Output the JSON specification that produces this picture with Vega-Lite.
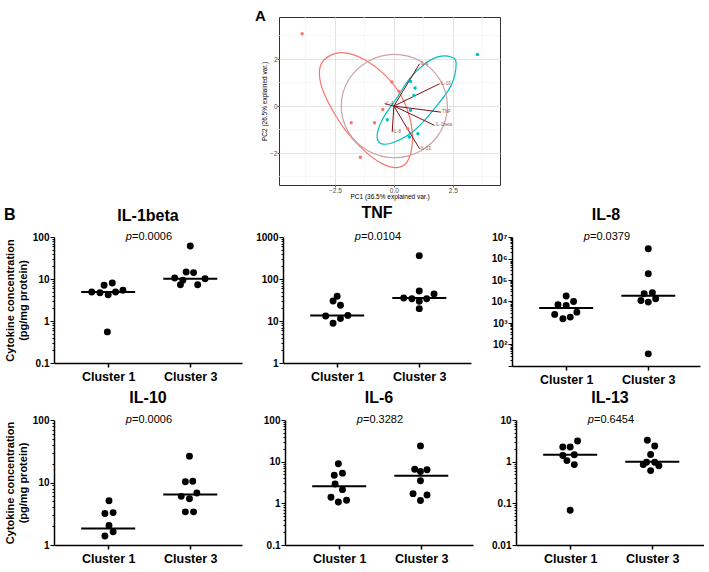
{
  "$schema": "https://vega.github.io/schema/vega-lite/v6.json",
  "background": "white",
  "padding": {"left": 3, "top": 8, "right": 0, "bottom": 0},
  "config": {
    "view": {"stroke": null},
    "font": "Liberation Sans",
    "axis": {"labelFont": "Liberation Sans", "titleFont": "Liberation Sans"},
    "text": {"font": "Liberation Sans"},
    "title": {"font": "Liberation Sans", "fontSize": 16, "fontWeight": "bold", "color": "black", "anchor": "middle", "offset": 8, "frame": "group"}
  },
  "datasets": {
    "pts": [
      {"c": "IL-1beta", "x": 1.05, "v": 8.0}, {"c": "IL-1beta", "x": 0.95, "v": 7.1}, {"c": "IL-1beta", "x": 1.18, "v": 5.4}, {"c": "IL-1beta", "x": 0.80, "v": 4.9},
      {"c": "IL-1beta", "x": 0.90, "v": 4.7}, {"c": "IL-1beta", "x": 1.00, "v": 4.2}, {"c": "IL-1beta", "x": 1.09, "v": 4.9}, {"c": "IL-1beta", "x": 0.99, "v": 0.55},
      {"c": "IL-1beta", "x": 2.00, "v": 61}, {"c": "IL-1beta", "x": 1.95, "v": 14.7}, {"c": "IL-1beta", "x": 2.04, "v": 14.2}, {"c": "IL-1beta", "x": 1.81, "v": 10.6},
      {"c": "IL-1beta", "x": 1.91, "v": 9.3}, {"c": "IL-1beta", "x": 2.18, "v": 10.1}, {"c": "IL-1beta", "x": 1.88, "v": 7.3}, {"c": "IL-1beta", "x": 2.09, "v": 7.3},
      {"c": "TNF", "x": 1.00, "v": 38.7}, {"c": "TNF", "x": 0.95, "v": 29.9}, {"c": "TNF", "x": 1.04, "v": 23.6}, {"c": "TNF", "x": 0.86, "v": 13.2},
      {"c": "TNF", "x": 1.13, "v": 13.6}, {"c": "TNF", "x": 1.04, "v": 11.4}, {"c": "TNF", "x": 0.95, "v": 8.8},
      {"c": "TNF", "x": 2.00, "v": 360}, {"c": "TNF", "x": 2.00, "v": 51.8}, {"c": "TNF", "x": 1.81, "v": 35.3}, {"c": "TNF", "x": 1.91, "v": 34.0},
      {"c": "TNF", "x": 2.09, "v": 34.0}, {"c": "TNF", "x": 2.00, "v": 29.4}, {"c": "TNF", "x": 2.18, "v": 44}, {"c": "TNF", "x": 2.00, "v": 19.7},
      {"c": "IL-8", "x": 1.00, "v": 17900}, {"c": "IL-8", "x": 0.90, "v": 7050}, {"c": "IL-8", "x": 1.00, "v": 6560}, {"c": "IL-8", "x": 1.09, "v": 10070},
      {"c": "IL-8", "x": 1.13, "v": 3200}, {"c": "IL-8", "x": 0.86, "v": 2510}, {"c": "IL-8", "x": 0.96, "v": 1570}, {"c": "IL-8", "x": 1.05, "v": 1880},
      {"c": "IL-8", "x": 2.00, "v": 2860000}, {"c": "IL-8", "x": 2.00, "v": 196000}, {"c": "IL-8", "x": 1.95, "v": 22900}, {"c": "IL-8", "x": 2.05, "v": 25500},
      {"c": "IL-8", "x": 1.91, "v": 11200}, {"c": "IL-8", "x": 2.00, "v": 9380}, {"c": "IL-8", "x": 2.09, "v": 13400}, {"c": "IL-8", "x": 2.00, "v": 36.7},
      {"c": "IL-10", "x": 1.01, "v": 5.1}, {"c": "IL-10", "x": 0.96, "v": 3.2}, {"c": "IL-10", "x": 1.06, "v": 3.3}, {"c": "IL-10", "x": 1.01, "v": 2.06},
      {"c": "IL-10", "x": 1.06, "v": 1.63}, {"c": "IL-10", "x": 0.96, "v": 1.39},
      {"c": "IL-10", "x": 1.99, "v": 26.4}, {"c": "IL-10", "x": 1.94, "v": 10.3}, {"c": "IL-10", "x": 2.03, "v": 10.5}, {"c": "IL-10", "x": 1.89, "v": 6.0},
      {"c": "IL-10", "x": 1.99, "v": 5.5}, {"c": "IL-10", "x": 2.08, "v": 6.8}, {"c": "IL-10", "x": 1.94, "v": 3.39}, {"c": "IL-10", "x": 2.04, "v": 3.39},
      {"c": "IL-6", "x": 0.99, "v": 8.9}, {"c": "IL-6", "x": 0.94, "v": 4.7}, {"c": "IL-6", "x": 1.04, "v": 5.3}, {"c": "IL-6", "x": 0.95, "v": 2.9},
      {"c": "IL-6", "x": 1.04, "v": 2.13}, {"c": "IL-6", "x": 0.90, "v": 1.40}, {"c": "IL-6", "x": 0.99, "v": 1.08}, {"c": "IL-6", "x": 1.09, "v": 1.19},
      {"c": "IL-6", "x": 1.99, "v": 23.9}, {"c": "IL-6", "x": 1.92, "v": 6.6}, {"c": "IL-6", "x": 1.99, "v": 5.8}, {"c": "IL-6", "x": 2.07, "v": 6.4},
      {"c": "IL-6", "x": 1.99, "v": 3.5}, {"c": "IL-6", "x": 1.90, "v": 1.71}, {"c": "IL-6", "x": 2.07, "v": 1.59}, {"c": "IL-6", "x": 1.99, "v": 1.17},
      {"c": "IL-13", "x": 1.09, "v": 3.14}, {"c": "IL-13", "x": 0.91, "v": 2.25}, {"c": "IL-13", "x": 1.00, "v": 2.25}, {"c": "IL-13", "x": 0.91, "v": 1.41},
      {"c": "IL-13", "x": 1.05, "v": 1.46}, {"c": "IL-13", "x": 0.96, "v": 1.06}, {"c": "IL-13", "x": 1.05, "v": 0.85}, {"c": "IL-13", "x": 1.00, "v": 0.068},
      {"c": "IL-13", "x": 1.94, "v": 3.26}, {"c": "IL-13", "x": 2.03, "v": 2.38}, {"c": "IL-13", "x": 1.98, "v": 1.49}, {"c": "IL-13", "x": 1.89, "v": 0.85},
      {"c": "IL-13", "x": 1.93, "v": 0.97}, {"c": "IL-13", "x": 2.03, "v": 0.97}, {"c": "IL-13", "x": 2.08, "v": 0.80}, {"c": "IL-13", "x": 1.98, "v": 0.61}
    ],
    "med": [
      {"c": "IL-1beta", "x": 1, "v": 4.9}, {"c": "IL-1beta", "x": 2, "v": 10.2},
      {"c": "TNF", "x": 1, "v": 13.6}, {"c": "TNF", "x": 2, "v": 35.3},
      {"c": "IL-8", "x": 1, "v": 4930}, {"c": "IL-8", "x": 2, "v": 18500},
      {"c": "IL-10", "x": 1, "v": 1.84}, {"c": "IL-10", "x": 2, "v": 6.4},
      {"c": "IL-6", "x": 1, "v": 2.56}, {"c": "IL-6", "x": 2, "v": 4.6},
      {"c": "IL-13", "x": 1, "v": 1.46}, {"c": "IL-13", "x": 2, "v": 0.99}
    ],
    "pv": [
      {"c": "IL-1beta", "p": "=0.0006"}, {"c": "TNF", "p": "=0.0104"}, {"c": "IL-8", "p": "=0.0379"},
      {"c": "IL-10", "p": "=0.0006"}, {"c": "IL-6", "p": "=0.3282"}, {"c": "IL-13", "p": "=0.6454"}
    ],
    "pca": [
      {"g": "1", "x": -3.89, "y": 3.08}, {"g": "1", "x": -1.81, "y": -0.71}, {"g": "1", "x": -0.82, "y": -0.71}, {"g": "1", "x": -1.42, "y": -2.18},
      {"g": "1", "x": -0.47, "y": -0.15}, {"g": "1", "x": 0.59, "y": -0.97}, {"g": "1", "x": 0.22, "y": 0.62}, {"g": "1", "x": -0.08, "y": 1.02},
      {"g": "3", "x": 3.54, "y": 2.19}, {"g": "3", "x": 0.71, "y": 1.05}, {"g": "3", "x": 0.90, "y": 0.77}, {"g": "3", "x": 0.85, "y": 0.45},
      {"g": "3", "x": 0.71, "y": -0.18}, {"g": "3", "x": -0.28, "y": -0.58}, {"g": "3", "x": 0.66, "y": -1.32}, {"g": "3", "x": 1.02, "y": -1.18}
    ],
    "ell": [
      {"g": "1", "i": 0, "x": -3.10, "y": 1.75}, {"g": "1", "i": 1, "x": -2.60, "y": 2.20}, {"g": "1", "i": 2, "x": -2.00, "y": 2.25},
      {"g": "1", "i": 3, "x": -1.20, "y": 1.95}, {"g": "1", "i": 4, "x": -0.40, "y": 1.35}, {"g": "1", "i": 5, "x": 0.30, "y": 0.45},
      {"g": "1", "i": 6, "x": 0.70, "y": -0.60}, {"g": "1", "i": 7, "x": 0.78, "y": -1.60}, {"g": "1", "i": 8, "x": 0.55, "y": -2.40},
      {"g": "1", "i": 9, "x": 0.10, "y": -2.62}, {"g": "1", "i": 10, "x": -0.50, "y": -2.45}, {"g": "1", "i": 11, "x": -1.20, "y": -1.95},
      {"g": "1", "i": 12, "x": -2.00, "y": -1.10}, {"g": "1", "i": 13, "x": -2.70, "y": 0.00}, {"g": "1", "i": 14, "x": -3.10, "y": 0.95},
      {"g": "3", "i": 0, "x": 1.86, "y": 2.09}, {"g": "3", "i": 1, "x": 2.43, "y": 2.09}, {"g": "3", "i": 2, "x": 2.64, "y": 1.80},
      {"g": "3", "i": 3, "x": 2.43, "y": 0.88}, {"g": "3", "i": 4, "x": 1.72, "y": -0.11}, {"g": "3", "i": 5, "x": 0.88, "y": -1.03},
      {"g": "3", "i": 6, "x": 0.03, "y": -1.53}, {"g": "3", "i": 7, "x": -0.54, "y": -1.60}, {"g": "3", "i": 8, "x": -0.71, "y": -1.25},
      {"g": "3", "i": 9, "x": -0.47, "y": -0.54}, {"g": "3", "i": 10, "x": 0.10, "y": 0.31}, {"g": "3", "i": 11, "x": 0.66, "y": 1.16},
      {"g": "3", "i": 12, "x": 1.23, "y": 1.73},
      {"g": "m", "i": 0, "x": 2.27, "y": 0.0}, {"g": "m", "i": 1, "x": 1.97, "y": 1.10}, {"g": "m", "i": 2, "x": 1.15, "y": 1.90},
      {"g": "m", "i": 3, "x": 0.02, "y": 2.20}, {"g": "m", "i": 4, "x": -1.10, "y": 1.90}, {"g": "m", "i": 5, "x": -1.93, "y": 1.10},
      {"g": "m", "i": 6, "x": -2.23, "y": 0.0}, {"g": "m", "i": 7, "x": -1.93, "y": -1.10}, {"g": "m", "i": 8, "x": -1.10, "y": -1.90},
      {"g": "m", "i": 9, "x": 0.02, "y": -2.20}, {"g": "m", "i": 10, "x": 1.15, "y": -1.90}, {"g": "m", "i": 11, "x": 1.97, "y": -1.10}
    ],
    "arr": [
      {"n": "IL-6", "x": 1.09, "y": 1.80}, {"n": "IL-10", "x": 1.94, "y": 0.95}, {"n": "TNF", "x": 2.0, "y": -0.26},
      {"n": "IL-1beta", "x": 1.72, "y": -0.82}, {"n": "IL-13", "x": 1.09, "y": -1.82}, {"n": "IL-8", "x": -0.07, "y": -1.1},
      {"n": "IL-4", "x": -0.39, "y": 0.1}
    ],
    "mgx": [{"v": -3.75}, {"v": -1.25}, {"v": 1.25}, {"v": 3.75}],
    "mgy": [{"v": -3}, {"v": -1}, {"v": 1}, {"v": 3}]
  },
  "spacing": 4,
  "vconcat": [
    {
      "spacing": 0,
      "hconcat": [
        {"width": 200, "height": 10, "data": {"values": [{"a": 1}]}, "mark": {"type": "point", "opacity": 0}, "encoding": {}},
        {
          "width": 221, "height": 168,
          "view": {"stroke": "#333333", "strokeWidth": 1},
          "title": {"text": "A", "anchor": "start", "dx": -24, "fontSize": 15, "fontWeight": "bold", "color": "black", "offset": -7, "frame": "group"},
          "layer": [
            {
              "data": {"name": "mgx"},
              "mark": {"type": "rule", "color": "#F2F2F2", "strokeWidth": 0.7},
              "encoding": {"x": {"field": "v", "type": "quantitative"}}
            },
            {
              "data": {"name": "mgy"},
              "mark": {"type": "rule", "color": "#F2F2F2", "strokeWidth": 0.7},
              "encoding": {"y": {"field": "v", "type": "quantitative"}}
            },
            {
              "data": {"name": "ell"},
              "mark": {"type": "line", "interpolate": "cardinal-closed", "strokeWidth": 1.2, "clip": true},
              "encoding": {
                "x": {"field": "x", "type": "quantitative", "scale": {"domain": [-4.87, 4.5], "nice": false, "zero": false},
                  "axis": {"values": [-2.5, 0, 2.5], "format": ".1f", "title": "PC1 (36.5% explained var.)", "titleFontSize": 6.5, "titleFontWeight": "normal", "titleColor": "black", "titlePadding": 0,
                    "labelFontSize": 6.5, "labelColor": "#4D4D4D", "labelPadding": 0, "labelOverlap": false, "labelFlush": false,
                    "domain": false, "tickColor": "#333333", "tickSize": 2, "tickWidth": 0.8,
                    "grid": true, "gridColor": "#E3E3E3", "gridWidth": 1}},
                "y": {"field": "y", "type": "quantitative", "scale": {"domain": [-3.36, 3.79], "nice": false, "zero": false},
                  "axis": {"values": [-2, 0, 2], "format": "d", "title": "PC2 (26.5% explained var.)", "titleFontSize": 6.5, "titleFontWeight": "normal", "titleColor": "black", "titlePadding": 2,
                    "labelFontSize": 6.5, "labelColor": "#4D4D4D", "labelPadding": 0, "labelOverlap": false, "labelFlush": false,
                    "domain": false, "tickColor": "#333333", "tickSize": 2, "tickWidth": 0.8,
                    "grid": true, "gridColor": "#E3E3E3", "gridWidth": 1}},
                "color": {"field": "g", "type": "nominal", "scale": {"domain": ["1", "3", "m"], "range": ["#F8766D", "#00BFC4", "#C9A3A8"]}, "legend": null},
                "detail": {"field": "g", "type": "nominal"},
                "order": {"field": "i", "type": "quantitative"}
              }
            },
            {
              "data": {"name": "arr"},
              "mark": {"type": "rule", "color": "#7A1010", "strokeWidth": 1},
              "encoding": {
                "x": {"field": "x", "type": "quantitative"}, "y": {"field": "y", "type": "quantitative"},
                "x2": {"datum": 0}, "y2": {"datum": 0}
              }
            },
            {
              "data": {"name": "arr"},
              "mark": {"type": "text", "fontSize": 4.5, "color": "#A05050", "baseline": "middle", "align": "left", "dx": 1},
              "encoding": {
                "x": {"field": "x", "type": "quantitative"}, "y": {"field": "y", "type": "quantitative"},
                "text": {"field": "n", "type": "nominal"}
              }
            },
            {
              "data": {"name": "pca"},
              "mark": {"type": "circle", "size": 12, "opacity": 1},
              "encoding": {
                "x": {"field": "x", "type": "quantitative"}, "y": {"field": "y", "type": "quantitative"},
                "color": {"field": "g", "type": "nominal"}
              }
            }
          ]
        }
      ]
    },
    {
      "spacing": 41,
      "bounds": "flush",
      "hconcat": [
        {
          "width": 188, "height": 126, "title": {"text": "IL-1beta", "offset": -17},
          "layer": [
            {"data": {"name": "pts"}, "transform": [{"filter": "datum.c == 'IL-1beta'"}],
              "mark": {"type": "circle", "size": 48, "color": "black", "opacity": 1},
              "encoding": {
                "x": {"field": "x", "type": "quantitative", "scale": {"domain": [0.34, 2.63], "nice": false, "zero": false},
                  "axis": {"values": [1, 2], "labelExpr": "datum.value == 1 ? 'Cluster 1' : 'Cluster 3'", "title": null, "grid": false, "domainColor": "black", "domainWidth": 1.5, "tickColor": "black", "tickWidth": 1.5, "tickSize": 4, "labelFontWeight": "bold", "labelFontSize": 12.5, "labelColor": "black", "labelPadding": 3, "labelFlush": false}},
                "y": {"field": "v", "type": "quantitative", "scale": {"type": "log", "domain": [0.1, 100], "nice": false},
                  "axis": {"values": [0.1, 0.2, 0.3, 0.4, 0.5, 0.6, 0.7, 0.8, 0.9, 1, 2, 3, 4, 5, 6, 7, 8, 9, 10, 20, 30, 40, 50, 60, 70, 80, 90, 100],
                    "title": ["Cytokine concentration", "(pg/mg protein)"], "titleFontSize": 11, "titleFontWeight": "bold", "titleColor": "black", "titleLineHeight": 13, "titlePadding": 4,
                    "grid": false, "domainColor": "black", "domainWidth": 1.5, "tickColor": "black", "tickWidth": 1,
                    "tickSize": {"condition": {"test": "abs(log(datum.value)/LN10 - round(log(datum.value)/LN10)) < 0.001", "value": 4}, "value": 2},
                    "labelExpr": "abs(log(datum.value)/LN10 - round(log(datum.value)/LN10)) < 0.001 ? format(datum.value, '~g') : ''",
                    "labelFontSize": 10, "labelFontWeight": "bold", "labelColor": "black", "labelPadding": 1, "labelOverlap": false, "labelFlush": false}}
              }},
            {"data": {"name": "med"}, "transform": [{"filter": "datum.c == 'IL-1beta'"}],
              "mark": {"type": "tick", "orient": "horizontal", "size": 54, "thickness": 2, "color": "black", "opacity": 1},
              "encoding": {"x": {"field": "x", "type": "quantitative"}, "y": {"field": "v", "type": "quantitative"}}},
            {"data": {"name": "pv"}, "transform": [{"filter": "datum.c == 'IL-1beta'"}],
              "mark": {"type": "text", "fontStyle": "italic", "fontSize": 11, "align": "right", "baseline": "middle", "color": "black"},
              "encoding": {"x": {"datum": 1.29, "type": "quantitative"}, "y": {"datum": 100, "type": "quantitative"}, "text": {"value": "p"}}},
            {"data": {"name": "pv"}, "transform": [{"filter": "datum.c == 'IL-1beta'"}],
              "mark": {"type": "text", "fontSize": 11, "align": "left", "baseline": "middle", "color": "black"},
              "encoding": {"x": {"datum": 1.29, "type": "quantitative"}, "y": {"datum": 100, "type": "quantitative"}, "text": {"field": "p", "type": "nominal"}}},
            {"data": {"values": [{"t": "B"}]},
              "mark": {"type": "text", "fontSize": 16, "fontWeight": "bold", "align": "center", "baseline": "middle", "color": "black"},
              "encoding": {"x": {"datum": -0.2, "type": "quantitative"}, "y": {"datum": 340, "type": "quantitative"}, "text": {"field": "t", "type": "nominal"}}}
          ]
        },
        {
          "width": 188, "height": 126, "title": {"text": "TNF", "offset": 10},
          "layer": [
            {"data": {"name": "pts"}, "transform": [{"filter": "datum.c == 'TNF'"}],
              "mark": {"type": "circle", "size": 48, "color": "black", "opacity": 1},
              "encoding": {
                "x": {"field": "x", "type": "quantitative", "scale": {"domain": [0.34, 2.63], "nice": false, "zero": false},
                  "axis": {"values": [1, 2], "labelExpr": "datum.value == 1 ? 'Cluster 1' : 'Cluster 3'", "title": null, "grid": false, "domainColor": "black", "domainWidth": 1.5, "tickColor": "black", "tickWidth": 1.5, "tickSize": 4, "labelFontWeight": "bold", "labelFontSize": 12.5, "labelColor": "black", "labelPadding": 3, "labelFlush": false}},
                "y": {"field": "v", "type": "quantitative", "scale": {"type": "log", "domain": [1, 1000], "nice": false},
                  "axis": {"values": [1, 2, 3, 4, 5, 6, 7, 8, 9, 10, 20, 30, 40, 50, 60, 70, 80, 90, 100, 200, 300, 400, 500, 600, 700, 800, 900, 1000],
                    "title": null, "grid": false, "domainColor": "black", "domainWidth": 1.5, "tickColor": "black", "tickWidth": 1,
                    "tickSize": {"condition": {"test": "abs(log(datum.value)/LN10 - round(log(datum.value)/LN10)) < 0.001", "value": 4}, "value": 2},
                    "labelExpr": "abs(log(datum.value)/LN10 - round(log(datum.value)/LN10)) < 0.001 ? format(datum.value, '~g') : ''",
                    "labelFontSize": 10, "labelFontWeight": "bold", "labelColor": "black", "labelPadding": 1, "labelOverlap": false, "labelFlush": false}}
              }},
            {"data": {"name": "med"}, "transform": [{"filter": "datum.c == 'TNF'"}],
              "mark": {"type": "tick", "orient": "horizontal", "size": 54, "thickness": 2, "color": "black", "opacity": 1},
              "encoding": {"x": {"field": "x", "type": "quantitative"}, "y": {"field": "v", "type": "quantitative"}}},
            {"data": {"name": "pv"}, "transform": [{"filter": "datum.c == 'TNF'"}],
              "mark": {"type": "text", "fontStyle": "italic", "fontSize": 11, "align": "right", "baseline": "middle", "color": "black"},
              "encoding": {"x": {"datum": 1.29, "type": "quantitative"}, "y": {"datum": 1000, "type": "quantitative"}, "text": {"value": "p"}}},
            {"data": {"name": "pv"}, "transform": [{"filter": "datum.c == 'TNF'"}],
              "mark": {"type": "text", "fontSize": 11, "align": "left", "baseline": "middle", "color": "black"},
              "encoding": {"x": {"datum": 1.29, "type": "quantitative"}, "y": {"datum": 1000, "type": "quantitative"}, "text": {"field": "p", "type": "nominal"}}}
          ]
        },
        {
          "width": 188, "height": 129, "title": {"text": "IL-8", "offset": 8},
          "layer": [
            {"data": {"name": "pts"}, "transform": [{"filter": "datum.c == 'IL-8'"}],
              "mark": {"type": "circle", "size": 48, "color": "black", "opacity": 1},
              "encoding": {
                "x": {"field": "x", "type": "quantitative", "scale": {"domain": [0.34, 2.63], "nice": false, "zero": false},
                  "axis": {"values": [1, 2], "labelExpr": "datum.value == 1 ? 'Cluster 1' : 'Cluster 3'", "title": null, "grid": false, "domainColor": "black", "domainWidth": 1.5, "tickColor": "black", "tickWidth": 1.5, "tickSize": 4, "labelFontWeight": "bold", "labelFontSize": 12.5, "labelColor": "black", "labelPadding": 3, "labelFlush": false}},
                "y": {"field": "v", "type": "quantitative", "scale": {"type": "log", "domain": [10, 10000000], "nice": false},
                  "axis": {"values": [10, 20, 30, 40, 50, 60, 70, 80, 90, 100, 200, 300, 400, 500, 600, 700, 800, 900, 1000, 2000, 3000, 4000, 5000, 6000, 7000, 8000, 9000, 10000, 20000, 30000, 40000, 50000, 60000, 70000, 80000, 90000, 100000, 200000, 300000, 400000, 500000, 600000, 700000, 800000, 900000, 1000000, 2000000, 3000000, 4000000, 5000000, 6000000, 7000000, 8000000, 9000000, 10000000],
                    "title": null, "grid": false, "domainColor": "black", "domainWidth": 1.5, "tickColor": "black", "tickWidth": 1,
                    "tickSize": {"condition": {"test": "abs(log(datum.value)/LN10 - round(log(datum.value)/LN10)) < 0.001", "value": 4}, "value": 2},
                    "labelExpr": "abs(log(datum.value)/LN10 - round(log(datum.value)/LN10)) < 0.001 && datum.value > 50 ? '10' + ['⁰','¹','²','³','⁴','⁵','⁶','⁷'][round(log(datum.value)/LN10)] : ''",
                    "labelFontSize": 10, "labelFontWeight": "bold", "labelColor": "black", "labelPadding": 1, "labelOverlap": false, "labelFlush": false}}
              }},
            {"data": {"name": "med"}, "transform": [{"filter": "datum.c == 'IL-8'"}],
              "mark": {"type": "tick", "orient": "horizontal", "size": 54, "thickness": 2, "color": "black", "opacity": 1},
              "encoding": {"x": {"field": "x", "type": "quantitative"}, "y": {"field": "v", "type": "quantitative"}}},
            {"data": {"name": "pv"}, "transform": [{"filter": "datum.c == 'IL-8'"}],
              "mark": {"type": "text", "fontStyle": "italic", "fontSize": 11, "align": "right", "baseline": "middle", "color": "black"},
              "encoding": {"x": {"datum": 1.29, "type": "quantitative"}, "y": {"datum": 10000000, "type": "quantitative"}, "text": {"value": "p"}}},
            {"data": {"name": "pv"}, "transform": [{"filter": "datum.c == 'IL-8'"}],
              "mark": {"type": "text", "fontSize": 11, "align": "left", "baseline": "middle", "color": "black"},
              "encoding": {"x": {"datum": 1.29, "type": "quantitative"}, "y": {"datum": 10000000, "type": "quantitative"}, "text": {"field": "p", "type": "nominal"}}}
          ]
        }
      ]
    },
    {
      "spacing": 43,
      "bounds": "flush",
      "hconcat": [
        {
          "width": 188, "height": 125, "title": {"text": "IL-10"},
          "layer": [
            {"data": {"name": "pts"}, "transform": [{"filter": "datum.c == 'IL-10'"}],
              "mark": {"type": "circle", "size": 48, "color": "black", "opacity": 1},
              "encoding": {
                "x": {"field": "x", "type": "quantitative", "scale": {"domain": [0.34, 2.63], "nice": false, "zero": false},
                  "axis": {"values": [1, 2], "labelExpr": "datum.value == 1 ? 'Cluster 1' : 'Cluster 3'", "title": null, "grid": false, "domainColor": "black", "domainWidth": 1.5, "tickColor": "black", "tickWidth": 1.5, "tickSize": 4, "labelFontWeight": "bold", "labelFontSize": 12.5, "labelColor": "black", "labelPadding": 3, "labelFlush": false}},
                "y": {"field": "v", "type": "quantitative", "scale": {"type": "log", "domain": [1, 100], "nice": false},
                  "axis": {"values": [1, 2, 3, 4, 5, 6, 7, 8, 9, 10, 20, 30, 40, 50, 60, 70, 80, 90, 100],
                    "title": ["Cytokine concentration", "(pg/mg protein)"], "titleFontSize": 11, "titleFontWeight": "bold", "titleColor": "black", "titleLineHeight": 13, "titlePadding": 4,
                    "grid": false, "domainColor": "black", "domainWidth": 1.5, "tickColor": "black", "tickWidth": 1,
                    "tickSize": {"condition": {"test": "abs(log(datum.value)/LN10 - round(log(datum.value)/LN10)) < 0.001", "value": 4}, "value": 2},
                    "labelExpr": "abs(log(datum.value)/LN10 - round(log(datum.value)/LN10)) < 0.001 ? format(datum.value, '~g') : ''",
                    "labelFontSize": 10, "labelFontWeight": "bold", "labelColor": "black", "labelPadding": 1, "labelOverlap": false, "labelFlush": false}}
              }},
            {"data": {"name": "med"}, "transform": [{"filter": "datum.c == 'IL-10'"}],
              "mark": {"type": "tick", "orient": "horizontal", "size": 54, "thickness": 2, "color": "black", "opacity": 1},
              "encoding": {"x": {"field": "x", "type": "quantitative"}, "y": {"field": "v", "type": "quantitative"}}},
            {"data": {"name": "pv"}, "transform": [{"filter": "datum.c == 'IL-10'"}],
              "mark": {"type": "text", "fontStyle": "italic", "fontSize": 11, "align": "right", "baseline": "middle", "color": "black"},
              "encoding": {"x": {"datum": 1.29, "type": "quantitative"}, "y": {"datum": 100, "type": "quantitative"}, "text": {"value": "p"}}},
            {"data": {"name": "pv"}, "transform": [{"filter": "datum.c == 'IL-10'"}],
              "mark": {"type": "text", "fontSize": 11, "align": "left", "baseline": "middle", "color": "black"},
              "encoding": {"x": {"datum": 1.29, "type": "quantitative"}, "y": {"datum": 100, "type": "quantitative"}, "text": {"field": "p", "type": "nominal"}}}
          ]
        },
        {
          "width": 188, "height": 125, "title": {"text": "IL-6"},
          "layer": [
            {"data": {"name": "pts"}, "transform": [{"filter": "datum.c == 'IL-6'"}],
              "mark": {"type": "circle", "size": 48, "color": "black", "opacity": 1},
              "encoding": {
                "x": {"field": "x", "type": "quantitative", "scale": {"domain": [0.34, 2.63], "nice": false, "zero": false},
                  "axis": {"values": [1, 2], "labelExpr": "datum.value == 1 ? 'Cluster 1' : 'Cluster 3'", "title": null, "grid": false, "domainColor": "black", "domainWidth": 1.5, "tickColor": "black", "tickWidth": 1.5, "tickSize": 4, "labelFontWeight": "bold", "labelFontSize": 12.5, "labelColor": "black", "labelPadding": 3, "labelFlush": false}},
                "y": {"field": "v", "type": "quantitative", "scale": {"type": "log", "domain": [0.1, 100], "nice": false},
                  "axis": {"values": [0.1, 0.2, 0.3, 0.4, 0.5, 0.6, 0.7, 0.8, 0.9, 1, 2, 3, 4, 5, 6, 7, 8, 9, 10, 20, 30, 40, 50, 60, 70, 80, 90, 100],
                    "title": null, "grid": false, "domainColor": "black", "domainWidth": 1.5, "tickColor": "black", "tickWidth": 1,
                    "tickSize": {"condition": {"test": "abs(log(datum.value)/LN10 - round(log(datum.value)/LN10)) < 0.001", "value": 4}, "value": 2},
                    "labelExpr": "abs(log(datum.value)/LN10 - round(log(datum.value)/LN10)) < 0.001 ? format(datum.value, '~g') : ''",
                    "labelFontSize": 10, "labelFontWeight": "bold", "labelColor": "black", "labelPadding": 1, "labelOverlap": false, "labelFlush": false}}
              }},
            {"data": {"name": "med"}, "transform": [{"filter": "datum.c == 'IL-6'"}],
              "mark": {"type": "tick", "orient": "horizontal", "size": 54, "thickness": 2, "color": "black", "opacity": 1},
              "encoding": {"x": {"field": "x", "type": "quantitative"}, "y": {"field": "v", "type": "quantitative"}}},
            {"data": {"name": "pv"}, "transform": [{"filter": "datum.c == 'IL-6'"}],
              "mark": {"type": "text", "fontStyle": "italic", "fontSize": 11, "align": "right", "baseline": "middle", "color": "black"},
              "encoding": {"x": {"datum": 1.29, "type": "quantitative"}, "y": {"datum": 100, "type": "quantitative"}, "text": {"value": "p"}}},
            {"data": {"name": "pv"}, "transform": [{"filter": "datum.c == 'IL-6'"}],
              "mark": {"type": "text", "fontSize": 11, "align": "left", "baseline": "middle", "color": "black"},
              "encoding": {"x": {"datum": 1.29, "type": "quantitative"}, "y": {"datum": 100, "type": "quantitative"}, "text": {"field": "p", "type": "nominal"}}}
          ]
        },
        {
          "width": 188, "height": 125, "title": {"text": "IL-13"},
          "layer": [
            {"data": {"name": "pts"}, "transform": [{"filter": "datum.c == 'IL-13'"}],
              "mark": {"type": "circle", "size": 48, "color": "black", "opacity": 1},
              "encoding": {
                "x": {"field": "x", "type": "quantitative", "scale": {"domain": [0.34, 2.63], "nice": false, "zero": false},
                  "axis": {"values": [1, 2], "labelExpr": "datum.value == 1 ? 'Cluster 1' : 'Cluster 3'", "title": null, "grid": false, "domainColor": "black", "domainWidth": 1.5, "tickColor": "black", "tickWidth": 1.5, "tickSize": 4, "labelFontWeight": "bold", "labelFontSize": 12.5, "labelColor": "black", "labelPadding": 3, "labelFlush": false}},
                "y": {"field": "v", "type": "quantitative", "scale": {"type": "log", "domain": [0.01, 10], "nice": false},
                  "axis": {"values": [0.01, 0.02, 0.03, 0.04, 0.05, 0.06, 0.07, 0.08, 0.09, 0.1, 0.2, 0.3, 0.4, 0.5, 0.6, 0.7, 0.8, 0.9, 1, 2, 3, 4, 5, 6, 7, 8, 9, 10],
                    "title": null, "grid": false, "domainColor": "black", "domainWidth": 1.5, "tickColor": "black", "tickWidth": 1,
                    "tickSize": {"condition": {"test": "abs(log(datum.value)/LN10 - round(log(datum.value)/LN10)) < 0.001", "value": 4}, "value": 2},
                    "labelExpr": "abs(log(datum.value)/LN10 - round(log(datum.value)/LN10)) < 0.001 ? format(datum.value, '~g') : ''",
                    "labelFontSize": 10, "labelFontWeight": "bold", "labelColor": "black", "labelPadding": 1, "labelOverlap": false, "labelFlush": false}}
              }},
            {"data": {"name": "med"}, "transform": [{"filter": "datum.c == 'IL-13'"}],
              "mark": {"type": "tick", "orient": "horizontal", "size": 54, "thickness": 2, "color": "black", "opacity": 1},
              "encoding": {"x": {"field": "x", "type": "quantitative"}, "y": {"field": "v", "type": "quantitative"}}},
            {"data": {"name": "pv"}, "transform": [{"filter": "datum.c == 'IL-13'"}],
              "mark": {"type": "text", "fontStyle": "italic", "fontSize": 11, "align": "right", "baseline": "middle", "color": "black"},
              "encoding": {"x": {"datum": 1.29, "type": "quantitative"}, "y": {"datum": 10, "type": "quantitative"}, "text": {"value": "p"}}},
            {"data": {"name": "pv"}, "transform": [{"filter": "datum.c == 'IL-13'"}],
              "mark": {"type": "text", "fontSize": 11, "align": "left", "baseline": "middle", "color": "black"},
              "encoding": {"x": {"datum": 1.29, "type": "quantitative"}, "y": {"datum": 10, "type": "quantitative"}, "text": {"field": "p", "type": "nominal"}}}
          ]
        }
      ]
    }
  ]
}
